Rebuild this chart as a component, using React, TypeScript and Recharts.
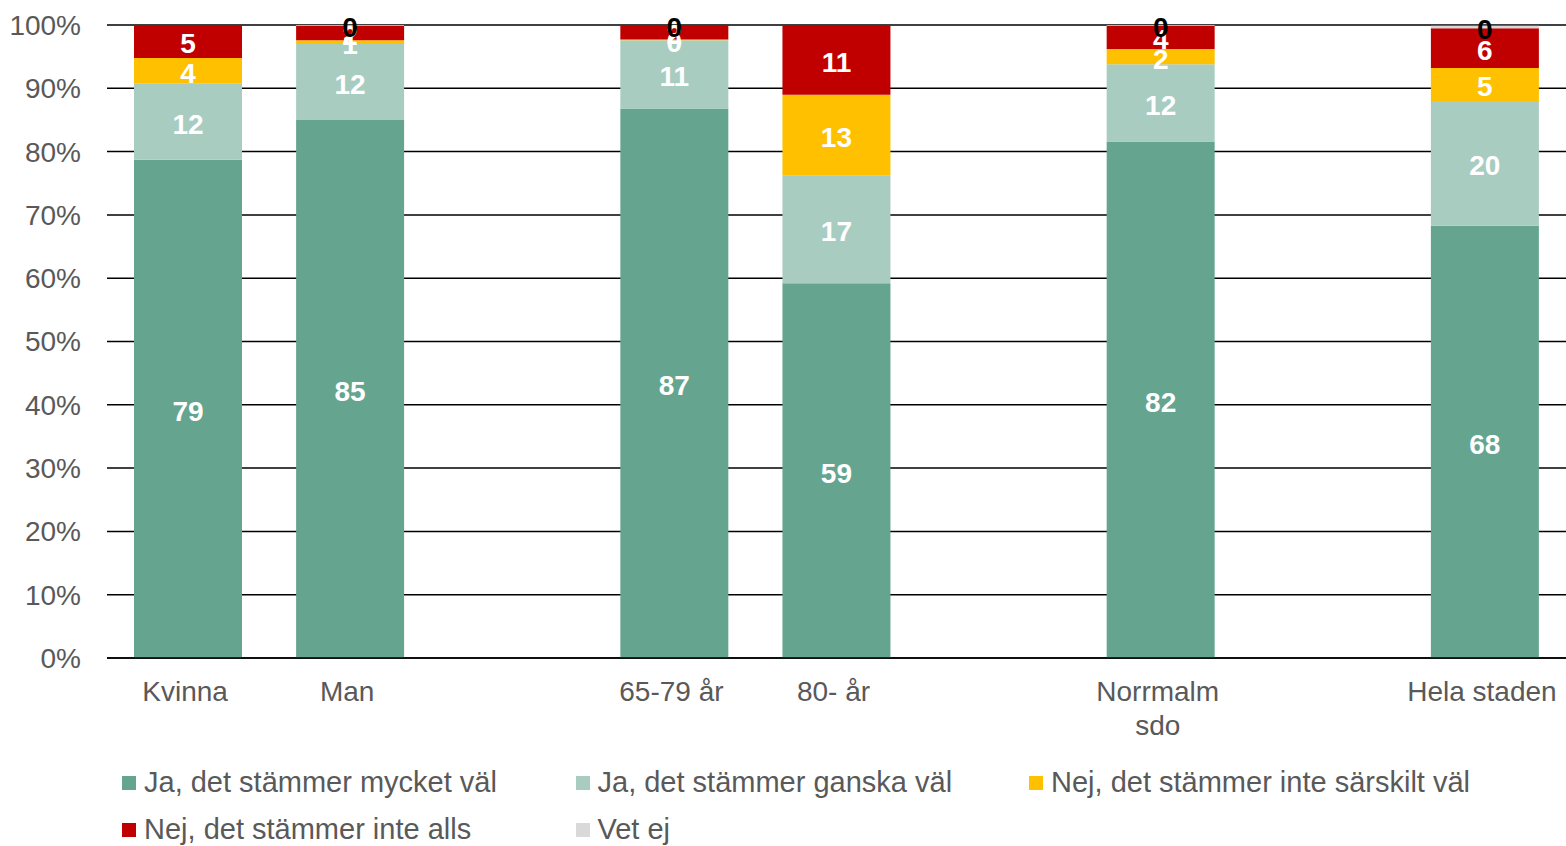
import React from 'react';
import { BarChart, Bar, XAxis, YAxis, CartesianGrid, Legend, LabelList } from 'recharts';

const categories = ['Kvinna', 'Man', '', '65-79 år', '80- år', '', 'Norrmalm sdo', '', 'Hela staden'];
const mycketVal = [78.7, 85, null, 86.8, 59.2, null, 81.6, null, 68.3];
const ganskaVal = [12, 12, null, 10.8, 17, null, 12.2, null, 19.7];
const inteSarskilt = [4.1, 0.6, null, 0.1, 12.8, null, 2.4, null, 5.2];
const inteAlls = [5.2, 2.3, null, 2.3, 11, null, 3.7, null, 6.3];
const vetEj = [0.1, 0.1, null, 0.1, 0.1, null, 0.1, null, 0.4];
const yTicks = [0, 10, 20, 30, 40, 50, 60, 70, 80, 90, 100];

const SERIES = [
  { key: 'mycket', name: 'Ja, det stämmer mycket väl', color: '#65A590', label: '#ffffff' },
  { key: 'ganska', name: 'Ja, det stämmer ganska väl', color: '#A9CCC1', label: '#ffffff' },
  { key: 'sarskilt', name: 'Nej, det stämmer inte särskilt väl', color: '#FFC000', label: '#ffffff' },
  { key: 'alls', name: 'Nej, det stämmer inte alls', color: '#C00000', label: '#ffffff' },
  { key: 'vetej', name: 'Vet ej', color: '#D9D9D9', label: '#000000' },
];

const FONT = '"Liberation Sans", Arial, sans-serif';
const GREY = '#595959';

const data = categories.map((name, i) => ({
  id: `c${i}`,
  name,
  mycket: mycketVal[i],
  ganska: ganskaVal[i],
  sarskilt: inteSarskilt[i],
  alls: inteAlls[i],
  vetej: vetEj[i],
}));

const CategoryTick = (props: any) => {
  const { x, y, index } = props;
  const label = categories[index] ?? '';
  const lines = label === 'Norrmalm sdo' ? ['Norrmalm', 'sdo'] : [label];
  const cx = x - 3;
  return (
    <text x={cx} y={y} textAnchor="middle" fill={GREY} fontSize={28} fontFamily={FONT}>
      {lines.map((l, k) => (
        <tspan key={k} x={cx} dy={k === 0 ? 35 : 34}>
          {l}
        </tspan>
      ))}
    </text>
  );
};

const LegendContent = () => (
  <div style={{ height: 87, position: 'relative', fontFamily: FONT, fontSize: 29, color: GREY }}>
    {SERIES.map((s, i) => {
      const col = i < 3 ? i : i - 3;
      const row = i < 3 ? 0 : 1;
      return (
        <div
          key={s.key}
          style={{
            position: 'absolute',
            left: 122 + col * 453.5,
            top: 7 + row * 47,
            display: 'flex',
            alignItems: 'center',
            whiteSpace: 'nowrap',
          }}
        >
          <span style={{ display: 'inline-block', width: 14, height: 14, background: s.color, marginRight: 8 }} />
          <span>{s.name}</span>
        </div>
      );
    })}
  </div>
);

export default function App() {
  return (
    <div style={{ position: 'absolute', left: 0, top: 0 }}>
      <BarChart
        width={1566}
        height={846}
        data={data}
        barSize={108}
        margin={{ top: 25, right: 0, bottom: 0, left: 0 }}
      >
        <CartesianGrid vertical={false} stroke="#000000" strokeWidth={1.5} />
        <XAxis
          dataKey="id"
          height={101}
          tick={<CategoryTick />}
          tickLine={false}
          axisLine={{ stroke: '#000000', strokeWidth: 1.5 }}
          interval={0}
        />
        <YAxis
          width={107}
          domain={[0, 100]}
          ticks={yTicks}
          allowDataOverflow
          tickFormatter={(v: number) => `${v}%`}
          tick={{ fill: GREY, fontSize: 28, fontFamily: FONT }}
          tickLine={false}
          axisLine={false}
          tickSize={0}
          tickMargin={26}
        />
        <Legend verticalAlign="bottom" content={<LegendContent />} />
        {SERIES.map((s) => (
          <Bar key={s.key} dataKey={s.key} name={s.name} stackId="a" fill={s.color} isAnimationActive={false}>
            <LabelList
              dataKey={s.key}
              position="center"
              fill={s.label}
              fontSize={28}
              fontWeight="bold"
              fontFamily={FONT}
              offset={0}
              dy={2}
              formatter={(v: any) => (v === null || v === undefined ? '' : String(Math.round(Number(v))))}
            />
          </Bar>
        ))}
      </BarChart>
    </div>
  );
}
